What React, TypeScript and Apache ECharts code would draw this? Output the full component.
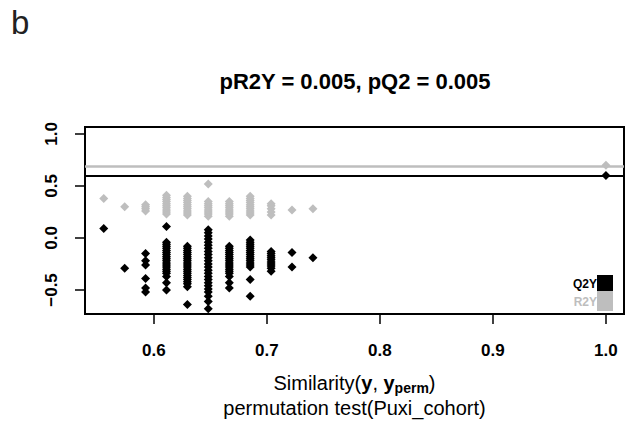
import React, { useEffect, useRef } from "react";
import * as echarts from "echarts";

// similarity(y, y_perm) positions of the permutation columns
const simX: number[] = [0.5556, 0.5741, 0.5926, 0.6111, 0.6296, 0.6481, 0.6667, 0.6852, 0.7037, 0.7222, 0.7407, 1.0];

// R2Y values per column (grey)
const r2yValues: number[][] = [
  [0.38],
  [0.30],
  [0.26, 0.28, 0.30, 0.32],
  [0.23, 0.25, 0.27, 0.29, 0.31, 0.33, 0.35, 0.37, 0.39, 0.41],
  [0.22, 0.24, 0.26, 0.28, 0.30, 0.32, 0.34, 0.36, 0.38, 0.40],
  [0.21, 0.23, 0.25, 0.27, 0.29, 0.31, 0.33, 0.35, 0.52],
  [0.21, 0.23, 0.25, 0.27, 0.29, 0.31, 0.33, 0.35],
  [0.22, 0.24, 0.26, 0.28, 0.30, 0.32, 0.34, 0.36, 0.38, 0.40],
  [0.22, 0.25, 0.28, 0.31, 0.33],
  [0.27],
  [0.28],
  [0.70],
];

// Q2Y values per column (black)
const q2Values: number[][] = [
  [0.09],
  [-0.29],
  [-0.15, -0.22, -0.26, -0.39, -0.48, -0.52],
  [0.11, -0.04, -0.06, -0.08, -0.10, -0.12, -0.14, -0.16, -0.18, -0.20, -0.22, -0.24, -0.26, -0.28, -0.30, -0.32, -0.34, -0.37, -0.43, -0.50],
  [-0.08, -0.10, -0.12, -0.14, -0.16, -0.18, -0.20, -0.22, -0.24, -0.26, -0.28, -0.30, -0.32, -0.34, -0.36, -0.38, -0.40, -0.42, -0.44, -0.47, -0.64],
  [0.08, 0.05, 0.02, -0.01, -0.04, -0.07, -0.10, -0.13, -0.16, -0.19, -0.22, -0.25, -0.28, -0.31, -0.34, -0.37, -0.40, -0.43, -0.46, -0.49, -0.52, -0.56, -0.61, -0.68],
  [-0.08, -0.10, -0.12, -0.14, -0.16, -0.18, -0.20, -0.22, -0.24, -0.26, -0.28, -0.30, -0.32, -0.34, -0.37, -0.43, -0.48],
  [-0.02, -0.04, -0.06, -0.08, -0.10, -0.12, -0.14, -0.16, -0.18, -0.20, -0.22, -0.24, -0.26, -0.28, -0.40, -0.56],
  [-0.13, -0.15, -0.17, -0.19, -0.21, -0.23, -0.25, -0.27, -0.29, -0.32],
  [-0.14, -0.28],
  [-0.19],
  [0.60],
];

// reference lines (original model)
const r2yOriginal = 0.692;
const q2Original = 0.596;

const xTicks: number[] = [0.6, 0.7, 0.8, 0.9, 1.0];
const yTicks: number[] = [-0.5, 0.0, 0.5, 1.0];

const X_MIN = 0.539;
const X_MAX = 1.016;
const Y_MIN = -0.731;
const Y_MAX = 1.067;

const titleText = "pR2Y = 0.005, pQ2 = 0.005";
const seriesNames = ["Q2Y", "R2Y"];

const GREY = "#bebebe";
const FONT = "'Liberation Sans', Arial, Helvetica, sans-serif";
const TICK_LEN = 10;

// plot box (pixels)
const BOX_L = 85;
const BOX_R = 624;
const BOX_T = 127;
const BOX_B = 314;
const W = 630;
const H = 439;

function toPairs(values: number[][]): number[][] {
  const out: number[][] = [];
  values.forEach((col, i) => col.forEach((v) => out.push([simX[i], v])));
  return out;
}

export default function App() {
  const ref = useRef<HTMLDivElement>(null);
  useEffect(() => {
    if (!ref.current) return;
    const chart = echarts.init(ref.current, undefined, { renderer: "svg" });
    const fmtY = (v: number) => (v < 0 ? "\u2212" + Math.abs(v).toFixed(1) : v.toFixed(1));

    // helper grids that carry the tick marks: their extents are the first/last tick,
    // positioned so that they share the main axes' scale exactly
    const xs = (BOX_R - BOX_L) / (X_MAX - X_MIN);
    const ys = (BOX_B - BOX_T) / (Y_MAX - Y_MIN);
    const xt0 = xTicks[0];
    const xt1 = xTicks[xTicks.length - 1];
    const yt0 = yTicks[0];
    const yt1 = yTicks[yTicks.length - 1];
    const gx = { left: BOX_L + (xt0 - X_MIN) * xs, right: W - (BOX_L + (xt1 - X_MIN) * xs) };
    const gy = { top: BOX_T + (Y_MAX - yt1) * ys, bottom: H - (BOX_B - (yt0 - Y_MIN) * ys) };

    chart.setOption({
      animation: false,
      textStyle: { fontFamily: FONT },
      grid: [
        {
          left: BOX_L,
          right: W - BOX_R,
          top: BOX_T,
          bottom: H - BOX_B,
          show: true,
          borderColor: "#000",
          borderWidth: 2,
        },
        { left: gx.left, right: gx.right, top: BOX_T, bottom: H - BOX_B, show: false },
        { left: BOX_L, right: W - BOX_R, top: gy.top, bottom: gy.bottom, show: false },
      ],
      xAxis: [
        {
          gridIndex: 0,
          type: "value",
          min: X_MIN,
          max: X_MAX,
          splitLine: { show: false },
          axisLine: { show: false, onZero: false },
          axisTick: { show: false },
          axisLabel: {
            customValues: xTicks,
            formatter: (v: number) => v.toFixed(1),
            color: "#000",
            fontSize: 17,
            fontWeight: "bold",
            fontFamily: FONT,
            margin: 28,
          },
          name:
            "{a|Similarity(}{b|y}{a|, }{b|y}{s|perm}{a|)}\n{a|permutation test(Puxi_cohort)}",
          nameLocation: "middle",
          nameGap: 56,
          nameTextStyle: {
            color: "#000",
            fontFamily: FONT,
            rich: {
              a: { fontSize: 20, lineHeight: 25, color: "#000", fontFamily: FONT },
              b: { fontSize: 20, lineHeight: 25, fontWeight: "bold", color: "#000", fontFamily: FONT },
              s: {
                fontSize: 14,
                lineHeight: 25,
                fontWeight: "bold",
                color: "#000",
                fontFamily: FONT,
                verticalAlign: "bottom",
                padding: [8, 0, 0, 0],
              },
            },
          },
        },
        {
          // tick carrier for the x axis
          gridIndex: 1,
          type: "value",
          min: xt0,
          max: xt1,
          interval: 0.1,
          splitLine: { show: false },
          axisLine: { show: true, onZero: false, lineStyle: { color: "#000", width: 2 } },
          axisTick: { show: true, length: TICK_LEN, lineStyle: { color: "#000", width: 1.5 } },
          axisLabel: { show: false },
        },
        { gridIndex: 2, type: "value", show: false, min: 0, max: 1 },
      ],
      yAxis: [
        {
          gridIndex: 0,
          type: "value",
          min: Y_MIN,
          max: Y_MAX,
          splitLine: { show: false },
          axisLine: { show: false, onZero: false },
          axisTick: { show: false },
          axisLabel: {
            customValues: yTicks,
            formatter: fmtY,
            rotate: 90,
            color: "#000",
            fontSize: 17,
            fontWeight: "bold",
            fontFamily: FONT,
            margin: 25,
          },
        },
        { gridIndex: 1, type: "value", show: false, min: 0, max: 1 },
        {
          // tick carrier for the y axis
          gridIndex: 2,
          type: "value",
          min: yt0,
          max: yt1,
          interval: 0.5,
          splitLine: { show: false },
          axisLine: { show: true, onZero: false, lineStyle: { color: "#000", width: 2 } },
          axisTick: { show: true, length: TICK_LEN, lineStyle: { color: "#000", width: 1.5 } },
          axisLabel: { show: false },
        },
      ],
      graphic: [
        {
          type: "text",
          left: 11,
          top: 6,
          style: { text: "b", fontSize: 33, fontFamily: FONT, fill: "#222" },
        },
        {
          type: "text",
          x: 355,
          y: 81,
          style: {
            text: titleText,
            fontSize: 22,
            fontWeight: "bold",
            fontFamily: FONT,
            fill: "#000",
            align: "center",
            verticalAlign: "middle",
          },
        },
        // legend (R style: label left of a filled box)
        { type: "rect", shape: { x: 597, y: 275, width: 16, height: 16 }, style: { fill: "#000" } },
        { type: "rect", shape: { x: 597, y: 291, width: 16, height: 20 }, style: { fill: GREY } },
        {
          type: "text",
          x: 597,
          y: 284,
          style: {
            text: seriesNames[0],
            fontSize: 12,
            fontWeight: "bold",
            fontFamily: FONT,
            fill: "#000",
            align: "right",
            verticalAlign: "middle",
          },
        },
        {
          type: "text",
          x: 597,
          y: 302,
          style: {
            text: seriesNames[1],
            fontSize: 12,
            fontWeight: "bold",
            fontFamily: FONT,
            fill: GREY,
            align: "right",
            verticalAlign: "middle",
          },
        },
      ],
      series: [
        {
          name: seriesNames[1],
          type: "scatter",
          xAxisIndex: 0,
          yAxisIndex: 0,
          symbol: "diamond",
          symbolSize: 9,
          itemStyle: { color: GREY, opacity: 1 },
          data: toPairs(r2yValues),
          markLine: {
            silent: true,
            symbol: "none",
            label: { show: false },
            lineStyle: { color: GREY, width: 2.5, type: "solid", opacity: 1 },
            data: [{ yAxis: r2yOriginal }],
          },
          z: 2,
        },
        {
          name: seriesNames[0],
          type: "scatter",
          xAxisIndex: 0,
          yAxisIndex: 0,
          symbol: "diamond",
          symbolSize: 9,
          itemStyle: { color: "#000", opacity: 1 },
          data: toPairs(q2Values),
          markLine: {
            silent: true,
            symbol: "none",
            label: { show: false },
            lineStyle: { color: "#000", width: 2, type: "solid", opacity: 1 },
            data: [{ yAxis: q2Original }],
          },
          z: 3,
        },
      ],
    });
    return () => chart.dispose();
  }, []);
  return (
    <div
      ref={ref}
      style={{ position: "fixed", left: 0, top: 0, width: W, height: H, background: "#fff" }}
    />
  );
}
